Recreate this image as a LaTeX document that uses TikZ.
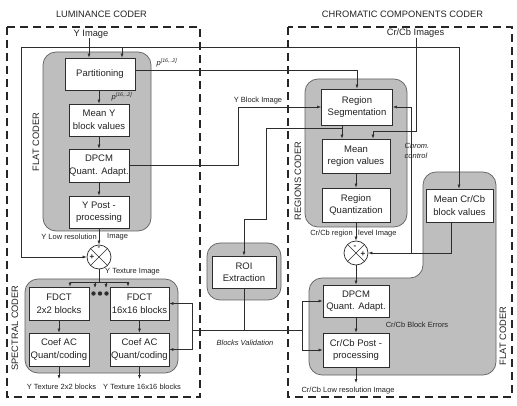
\documentclass[tikz,border=0pt]{standalone}
\usepackage{fontspec}
\setmainfont{Liberation Sans}
\usetikzlibrary{arrows.meta,calc}
\definecolor{grayfill}{RGB}{190,190,190}
\definecolor{ln}{RGB}{45,45,45}
\definecolor{txt}{RGB}{35,35,35}
\tikzset{
  lab/.style={font=\fontsize{7.5}{9}\selectfont, text=txt, inner sep=0pt},
  ilab/.style={font=\fontsize{7.5}{9.5}\selectfont\itshape, text=txt, inner sep=0pt, align=left},
  big/.style={font=\fontsize{9.3}{11}\selectfont, text=txt, inner sep=0pt},
  box/.style={draw=ln, fill=white, line width=0.8pt, align=center, font=\fontsize{9.5}{12.5}\selectfont, inner sep=0pt, text=txt},
  grp/.style={draw=ln!75, fill=grayfill, rounded corners=13pt, line width=0.7pt},
  arr/.style={-{Latex[length=4pt,width=3pt]}, draw=ln, line width=0.6pt},
  con/.style={draw=ln, line width=0.6pt},
  dbox/.style={draw=black!85, line width=1.6pt, dash pattern=on 8pt off 5pt},
  sumc/.style={circle, draw=ln, fill=white, line width=0.7pt, minimum size=24pt, inner sep=0pt},
}
\begin{document}
\begin{tikzpicture}[x=1pt,y=-1pt]
\useasboundingbox (0,0) rectangle (517,406);
\fill[white] (0,0) rectangle (517,406);

% titles
\node[big] (tl) at (101.5,14) {LUMINANCE CODER};
\node[big] (tr) at (402.5,14) {CHROMATIC COMPONENTS CODER};

% gray groups
\draw[grp] (43,52) rectangle (151,231);
\draw[grp] (25,279) rectangle (178,373);
\draw[grp] (207,243) rectangle (281,300);
\draw[grp] (305,79) rectangle (407,227);
\draw[grp] (423,278) -- (423,172) -- (496,172) -- (496,375) -- (309,375) -- (309,278) -- cycle;

% dashed outer boxes
\draw[dbox] (7,27) rectangle (200,397);
\draw[dbox] (288,27) rectangle (512,397);

% group labels
\node[big, rotate=90] (lflat) at (36,142) {FLAT CODER};
\node[big, rotate=90] (lspec) at (15,328) {SPECTRAL CODER};
\node[big, rotate=90] (rreg) at (298,181) {REGIONS CODER};
\node[big, rotate=90] (rflat) at (503,336) {FLAT CODER};

% boxes (luminance)
\node[box, minimum width=70pt, minimum height=32pt] (part) at (100,74) {Partitioning};
\node[box, minimum width=60pt, minimum height=32pt] (meanY) at (99,120) {Mean Y\\block values};
\node[box, minimum width=60pt, minimum height=33pt] (dpcmY) at (99,165.5) {DPCM\\Quant. Adapt.};
\node[box, minimum width=60pt, minimum height=32pt] (ypost) at (99,212) {Y Post -\\processing};
\node[sumc] (circY) at (99,257) {};
\node[box, minimum width=60pt, minimum height=33pt] (fdct2) at (59,303.5) {FDCT\\2x2 blocks};
\node[box, minimum width=59pt, minimum height=33pt] (fdct16) at (139.5,303.5) {FDCT\\16x16 blocks};
\node[box, minimum width=60pt, minimum height=33pt] (coef1) at (59,349.5) {Coef AC\\Quant/coding};
\node[box, minimum width=59pt, minimum height=33pt] (coef2) at (139.5,349.5) {Coef AC\\Quant/coding};

% ROI
\node[box, minimum width=64pt, minimum height=32pt] (roi) at (244,272) {ROI\\Extraction};

% boxes (chroma)
\node[box, minimum width=71pt, minimum height=36pt] (regseg) at (357,107) {Region\\Segmentation};
\node[box, minimum width=68pt, minimum height=34pt] (meanR) at (356,156) {Mean\\region values};
\node[box, minimum width=68pt, minimum height=34pt] (regq) at (356,205) {Region\\Quantization};
\node[sumc] (circC) at (356,253) {};
\node[box, minimum width=67pt, minimum height=33pt] (meanCC) at (459.5,205.5) {Mean Cr/Cb\\block values};
\node[box, minimum width=66pt, minimum height=32pt] (dpcmC) at (356,301) {DPCM\\Quant. Adapt.};
\node[box, minimum width=66pt, minimum height=34pt] (post) at (356,350) {Cr/Cb Post -\\processing};

% circle crosses and signs
\foreach \c in {circY,circC}{
  \draw[con] (\c.north west) -- (\c.south east);
  \draw[con] (\c.north east) -- (\c.south west);
}
\node[lab, font=\fontsize{8}{9}\selectfont\bfseries] (mY) at (99,248) {-};
\node[lab, font=\fontsize{8}{9}\selectfont\bfseries] (pY) at (92,257.5) {+};
\node[lab, font=\fontsize{8}{9}\selectfont\bfseries] (mC) at (355,247) {-};
\node[lab, font=\fontsize{8}{9}\selectfont\bfseries] (pC) at (363,254.5) {+};

% inputs
\node[big] (yimg) at (91,34) {Y Image};
\draw[arr] (yimg.south -| 89,0) -- (part.north -| 89,0);
\node[big] (crcb) at (415.5,33) {Cr/Cb Images};
\coordinate (cc1) at (416,131);
\draw[arr] (crcb.south -| 416,0) -- (cc1) -- (373,131) -- (meanR.north -| 373,0);

% long feedback line
\coordinate (fb) at (21,47);
\draw[arr] (fb) |- (circY.west);
\draw[arr] (fb) -| (meanCC.north -| 459,0);
\draw[arr] (122,47) -- (part.north -| 122,0);

% partitioning to region segmentation
\draw[arr] (part.east |- 0,70) -| (regseg.north);
\node[ilab] (p1) at (167,63) {p\textsuperscript{[16,..2]}};
\draw[arr] (part.south -| meanY.north) -- (meanY.north);
\node[ilab] (p2) at (122,97) {p\textsuperscript{[16,..2]}};
\draw[arr] (meanY) -- (dpcmY);
\draw[arr] (dpcmY) -- (ypost);
\draw[arr] (ypost) -- (circY);

% Y block image
\coordinate (yb) at (238,165.5);
\draw[arr] (dpcmY.east) -- (yb) |- (regseg.west);
\node[lab] (yblab) at (258,101) {Y Block Image};

% region seg outputs
\draw[arr] (regseg.south -| 342,0) -- (meanR.north -| 342,0);
\draw[arr] (342,128) -- (266,128) -- (266,219) -- (244,219) -- (roi.north);
\draw[arr] (meanR) -- (regq);
\draw[arr] (regq) -- (circC);

% mean Cr/Cb to circle and chrom control
\coordinate (cj) at (411,253);
\draw[arr] (meanCC.south -| 451,0) |- (circC.east);
\draw[arr] (cj) -- (regseg.east -| cj) -- (regseg.east);
\node[ilab] (chrom) at (417,151) {Chrom.\\control};

\draw[arr] (circC) -- (dpcmC);
\draw[arr] (dpcmC) -- (post);
\coordinate (postout) at (356,383);
\draw[arr] (post) -- (postout);

% labels near circles
\node[lab, anchor=east] (lowres1) at (97,237) {Y Low resolution};
\node[lab, anchor=west] (lowres2) at (107,237) {Image};
\node[lab, anchor=east] (crr1) at (353,234) {Cr/Cb region};
\node[lab, anchor=west] (crr2) at (358,234) {level Image};
\node[lab] (blkerr) at (417,325) {Cr/Cb Block Errors};
\node[lab] (crlow) at (348,391) {Cr/Cb Low resolution Image};

% Y texture
\coordinate (tx) at (99,282);
\draw[con] (circY.south) -- (tx);
\draw[con] (70,282) -- (128,282);
\draw[arr] (70,282) -- (fdct2.north -| 70,0);
\draw[arr] (128,282) -- (fdct16.north -| 128,0);
\draw[arr] (95,282) -- (95,288);
\draw[arr] (106,282) -- (106,288);
\node[lab, anchor=west] (ytex) at (105,272) {Y Texture Image};
\foreach \x/\n in {93.5/d1,100/d2,106.5/d3}{
  \fill[ln] (\x,293.5) circle (2.2pt);
}

\draw[arr] (fdct2) -- (coef1);
\draw[arr] (fdct16) -- (coef2);
\coordinate (o1) at (59,379);
\coordinate (o2) at (139.5,379);
\draw[arr] (coef1) -- (o1);
\draw[arr] (coef2) -- (o2);
\node[lab] (yt2) at (61.5,387) {Y Texture 2x2 blocks};
\node[lab] (yt16) at (142,387) {Y Texture 16x16 blocks};

% blocks validation
\coordinate (bvl) at (192,330);
\coordinate (bvr) at (302,330);
\draw[con] (roi.south) -- (244,330);
\draw[con] (bvl) -- (bvr);
\draw[arr] (bvr) |- (dpcmC.west);
\draw[arr] (bvr) |- (post.west);
\draw[arr] (bvl) |- (fdct16.east);
\draw[arr] (bvl) |- (coef2.east);
\node[ilab] (bv) at (245,343) {Blocks Validation};
\end{tikzpicture}
\end{document}
